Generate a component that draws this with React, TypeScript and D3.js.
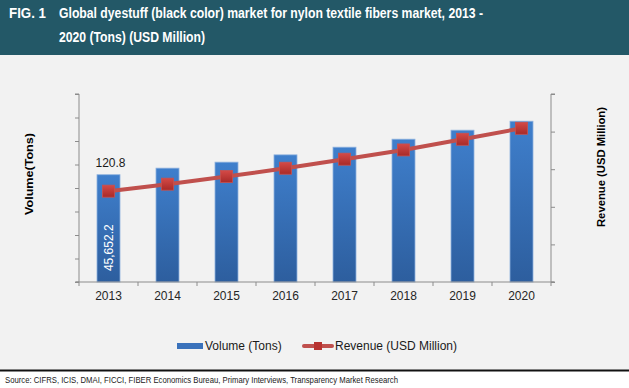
import React, { useRef, useEffect } from 'react';
import * as d3 from 'd3';

// chart data
const years = ['2013', '2014', '2015', '2016', '2017', '2018', '2019', '2020'];
const volume = [45652.2, 48450, 51000, 54100, 57370, 60770, 64600, 68420];
const revenue = [120.8, 130.1, 140.2, 151.3, 163.3, 175.6, 189.8, 204.4];
const volumeTicks = [0, 10000, 20000, 30000, 40000, 50000, 60000, 70000, 80000];
const revenueTicks = [0, 50, 100, 150, 200, 250];

const W = 629;
const H = 388;

const Chart: React.FC = () => {
    const ref = useRef<SVGSVGElement>(null);

    useEffect(() => {
        if (ref.current) drawChart();
    }, []);

    const drawChart = () => {
        const svg = d3.select(ref.current);
        svg.selectAll('*').remove();
        const font = 'Arial, "Liberation Sans", sans-serif';

        const margin = { top: 94, right: 78, bottom: 106, left: 79 };
        const iw = W - margin.left - margin.right;
        const ih = H - margin.top - margin.bottom;

        const defs = svg.append('defs');
        const bg = defs.append('linearGradient').attr('id', 'barGrad').attr('x1', 0).attr('y1', 0).attr('x2', 0).attr('y2', 1);
        bg.append('stop').attr('offset', '0%').attr('stop-color', '#3f7fcc');
        bg.append('stop').attr('offset', '100%').attr('stop-color', '#2d5e9e');
        const mg = defs.append('linearGradient').attr('id', 'mkGrad').attr('x1', 0).attr('y1', 0).attr('x2', 0).attr('y2', 1);
        mg.append('stop').attr('offset', '0%').attr('stop-color', '#d44a47');
        mg.append('stop').attr('offset', '100%').attr('stop-color', '#a82a28');

        // page background
        svg.append('rect').attr('width', W).attr('height', H).attr('fill', '#f2f2f2');

        // header band
        svg.append('rect').attr('width', W).attr('height', 55).attr('fill', '#235867');
        svg.append('text').attr('x', 9).attr('y', 18).attr('fill', '#fff')
            .attr('font-family', font).attr('font-weight', 'bold').attr('font-size', 14)
            .attr('textLength', 37).attr('lengthAdjust', 'spacingAndGlyphs').text('FIG. 1');
        svg.append('text').attr('x', 59).attr('y', 18).attr('fill', '#fff')
            .attr('font-family', font).attr('font-weight', 'bold').attr('font-size', 14)
            .attr('textLength', 424).attr('lengthAdjust', 'spacingAndGlyphs')
            .text('Global dyestuff (black color) market for nylon textile fibers market, 2013 -');
        svg.append('text').attr('x', 59).attr('y', 42).attr('fill', '#fff')
            .attr('font-family', font).attr('font-weight', 'bold').attr('font-size', 14)
            .attr('textLength', 146).attr('lengthAdjust', 'spacingAndGlyphs')
            .text('2020 (Tons) (USD Million)');

        const x = d3.scaleBand().domain(years).range([0, iw]).paddingInner(0.61).paddingOuter(0.305);
        const xTicks = d3.scaleBand().domain(years).range([0, iw]);
        const yL = d3.scaleLinear().domain([0, 80000]).range([ih, 0]);
        const yR = d3.scaleLinear().domain([0, 250]).range([ih, 0]);

        const g = svg.append('g').attr('transform', `translate(${margin.left},${margin.top})`);

        // bars
        g.selectAll('.bar').data(years).enter().append('rect')
            .attr('class', 'bar')
            .attr('x', d => x(d)!)
            .attr('y', (d, i) => yL(volume[i]))
            .attr('width', x.bandwidth())
            .attr('height', (d, i) => ih - yL(volume[i]))
            .attr('fill', 'url(#barGrad)')
            .attr('stroke', '#8fb2de').attr('stroke-width', 0.8);

        // axes
        const axisColor = '#8c8c8c';
        const left = g.append('g').call(d3.axisLeft(yL).tickValues(volumeTicks).tickSize(4).tickFormat(() => ''));
        const right = g.append('g').attr('transform', `translate(${iw},0)`)
            .call(d3.axisRight(yR).tickValues(revenueTicks).tickSize(4).tickFormat(() => ''));
        const bottom = g.append('g').attr('transform', `translate(0,${ih})`)
            .call(d3.axisBottom(xTicks).tickSize(0).tickFormat(d => d as string));
        [left, right, bottom].forEach(a => {
            a.select('.domain').attr('stroke', axisColor);
            a.selectAll('.tick line').attr('stroke', axisColor);
        });
        left.select('.domain').attr('d', `M-4,0H0V${ih}H-4`);
        right.select('.domain').attr('d', `M4,0H0V${ih}H4`);
        bottom.select('.domain').attr('d', `M-3,0H${iw + 3}`);
        bottom.selectAll('.tick text').attr('font-family', font).attr('font-size', 12).attr('fill', '#262626').attr('dy', '1.25em');
        // category separator ticks
        g.selectAll('.sep').data(d3.range(years.length + 1)).enter().append('line')
            .attr('x1', i => i * xTicks.bandwidth()).attr('x2', i => i * xTicks.bandwidth())
            .attr('y1', ih).attr('y2', ih + 4).attr('stroke', axisColor);

        // revenue line
        const line = d3.line<number>()
            .x((d, i) => x(years[i])! + x.bandwidth() / 2)
            .y(d => yR(d));
        g.append('path').datum(revenue).attr('d', line).attr('fill', 'none')
            .attr('stroke', '#c0504d').attr('stroke-width', 4);
        g.selectAll('.mk').data(revenue).enter().append('rect')
            .attr('x', (d, i) => x(years[i])! + x.bandwidth() / 2 - 6)
            .attr('y', d => yR(d) - 6)
            .attr('width', 12).attr('height', 12)
            .attr('fill', 'url(#mkGrad)').attr('stroke', '#c9504d').attr('stroke-width', 0.8);

        // data labels
        g.append('text').attr('x', x(years[0])! + x.bandwidth() / 2 + 2).attr('y', yL(volume[0]) - 8)
            .attr('text-anchor', 'middle').attr('font-family', font).attr('font-size', 12).attr('fill', '#1a1a1a')
            .text(d3.format('.1f')(revenue[0]));
        const lx = x(years[0])! + x.bandwidth() / 2;
        g.append('text').attr('transform', `translate(${lx + 4},${yL(volume[0]) + 73}) rotate(-90)`)
            .attr('text-anchor', 'middle').attr('font-family', font).attr('font-size', 12).attr('fill', '#fff')
            .text(d3.format(',.1f')(volume[0]));

        // axis titles
        svg.append('text').attr('transform', `translate(33,174) rotate(-90)`)
            .attr('text-anchor', 'middle').attr('font-family', font).attr('font-weight', 'bold').attr('font-size', 11.5)
            .attr('textLength', 82).attr('lengthAdjust', 'spacingAndGlyphs')
            .attr('fill', '#000').text('Volume(Tons)');
        svg.append('text').attr('transform', `translate(605,167) rotate(-90)`)
            .attr('text-anchor', 'middle').attr('font-family', font).attr('font-weight', 'bold').attr('font-size', 11.5)
            .attr('textLength', 120).attr('lengthAdjust', 'spacingAndGlyphs')
            .attr('fill', '#000').text('Revenue (USD Million)');

        // legend
        const lg = svg.append('g').attr('transform', 'translate(0,346)');
        lg.append('rect').attr('x', 177).attr('y', -3).attr('width', 26).attr('height', 6).attr('fill', '#3a72bb');
        lg.append('text').attr('x', 205).attr('y', 4).attr('font-family', font).attr('font-size', 12).attr('fill', '#1a1a1a')
            .text('Volume (Tons)');
        lg.append('line').attr('x1', 304).attr('x2', 332).attr('y1', 0).attr('y2', 0)
            .attr('stroke', '#c0504d').attr('stroke-width', 4).attr('stroke-linecap', 'round');
        lg.append('rect').attr('x', 314).attr('y', -4).attr('width', 8).attr('height', 8).attr('fill', '#b83330');
        lg.append('text').attr('x', 335).attr('y', 4).attr('font-family', font).attr('font-size', 12).attr('fill', '#1a1a1a')
            .text('Revenue (USD Million)');

        // footer
        svg.append('rect').attr('x', 0).attr('y', 371).attr('width', W).attr('height', H - 371).attr('fill', '#fff');
        svg.append('line').attr('x1', 0).attr('x2', W).attr('y1', 370.5).attr('y2', 370.5).attr('stroke', '#111').attr('stroke-width', 2);
        svg.append('text').attr('x', 5).attr('y', 383).attr('font-family', font).attr('font-size', 9.5).attr('fill', '#1a1a1a')
            .attr('textLength', 393).attr('lengthAdjust', 'spacingAndGlyphs')
            .text('Source: CIFRS, ICIS, DMAI, FICCI, FIBER Economics Bureau, Primary Interviews, Transparency Market Research');
    };

    return <svg ref={ref} width={W} height={H} style={{ position: 'absolute', left: 0, top: 0 }} />;
};

const App = () => <Chart />;

export default App;
